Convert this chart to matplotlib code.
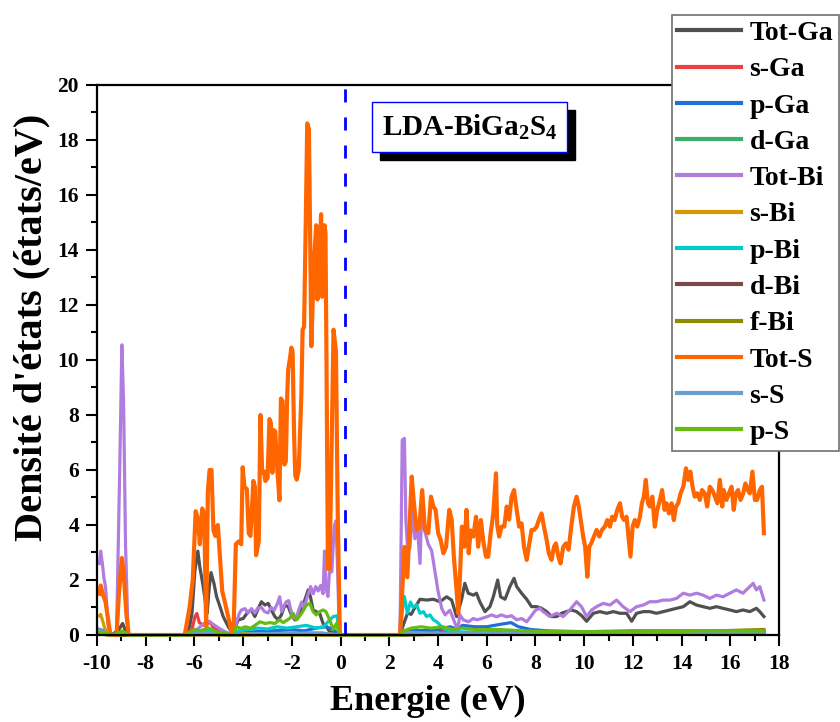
import numpy as np
import matplotlib
matplotlib.use("Agg")
import matplotlib.pyplot as plt
from matplotlib.patches import Rectangle
from matplotlib.ticker import MultipleLocator

plt.rcParams['font.family'] = ['Liberation Serif', 'DejaVu Serif']
plt.rcParams['font.weight'] = 'bold'
plt.rcParams['axes.unicode_minus'] = False
plt.rcParams['mathtext.fontset'] = 'custom'
plt.rcParams['mathtext.rm'] = 'Liberation Serif:bold'
plt.rcParams['mathtext.it'] = 'Liberation Serif:bold'

# (energie eV, DOS)
tot_ga = [(-9.9, 0.2), (-9.7, 0.15), (-9.5, 0.05), (-9.4, 0), (-9.1, 0.2), (-8.95, 0.42), (-8.85, 0.2), (-8.7, 0),
          (-6.4, 0), (-6.2, 0.3), (-6.1, 0.8), (-5.98, 2.36), (-5.86, 3.05), (-5.78, 2.48), (-5.64, 1.76), (-5.52, 1.0),
          (-5.48, 0.79), (-5.39, 1.76), (-5.32, 2.27), (-5.2, 1.88), (-5.09, 1.39), (-4.95, 1.03), (-4.82, 0.67),
          (-4.61, 0.3), (-4.48, 0.12), (-4.4, 0), (-4.3, 0.35), (-4.2, 0.55), (-4.0, 0.6), (-3.79, 0.85), (-3.66, 0.91),
          (-3.52, 0.67), (-3.38, 0.97), (-3.25, 1.21), (-3.11, 1.09), (-2.97, 1.15), (-2.84, 0.91), (-2.7, 0.67),
          (-2.56, 0.55), (-2.43, 0.73), (-2.29, 1.09), (-2.15, 1.03), (-2.02, 0.73), (-1.88, 0.55), (-1.74, 0.67),
          (-1.6, 0.91), (-1.47, 1.27), (-1.33, 1.64), (-1.24, 1.4), (-1.13, 0.91), (-1.0, 0.85), (-0.86, 0.79),
          (-0.72, 0.42), (-0.58, 0.3), (-0.45, 0.12), (-0.25, 0.06), (-0.05, 0),
          (2.44, 0), (2.55, 0.3), (2.65, 0.55), (2.75, 0.8), (2.9, 0.75), (3.05, 1.0), (3.26, 1.3), (3.53, 1.27),
          (3.81, 1.3), (4.08, 1.21), (4.35, 1.39), (4.56, 1.27), (4.76, 0.67), (4.97, 1.3), (5.1, 1.88), (5.24, 1.52),
          (5.45, 1.45), (5.58, 1.52), (5.72, 1.2), (5.93, 0.85), (6.13, 1.03), (6.27, 1.39), (6.45, 2.0), (6.57, 1.39),
          (6.75, 1.3), (6.95, 1.76), (7.12, 2.06), (7.23, 1.76), (7.43, 1.52), (7.64, 1.3), (7.84, 1.03), (8.05, 1.03),
          (8.25, 0.97), (8.46, 0.85), (8.66, 0.67), (8.87, 0.67), (9.07, 0.79), (9.27, 0.85), (9.48, 0.91),
          (9.69, 0.85), (9.9, 0.7), (10.1, 0.5), (10.38, 0.79), (10.65, 0.85), (10.92, 0.79), (11.2, 0.85),
          (11.47, 0.79), (11.74, 0.79), (11.95, 0.5), (12.15, 0.79), (12.43, 0.85), (12.7, 0.85), (12.97, 0.79),
          (13.25, 0.85), (13.52, 0.91), (13.79, 0.97), (14.07, 1.03), (14.34, 1.21), (14.61, 1.09), (14.88, 1.03),
          (15.16, 0.97), (15.43, 1.03), (15.7, 0.97), (15.98, 0.91), (16.25, 0.85), (16.52, 0.91), (16.8, 0.85),
          (17.07, 0.97), (17.21, 0.85), (17.38, 0.67)]

s_ga = [(-9.9, 0.05), (-9.4, 0), (-6.4, 0), (-6.1, 0.2), (-5.98, 0.67), (-5.9, 0.78), (-5.8, 0.45), (-5.64, 0.36),
        (-5.5, 0.38), (-5.37, 0.48), (-5.2, 0.25), (-4.9, 0.12), (-4.5, 0.03), (-4.4, 0), (-4.0, 0.05), (-3.0, 0.08),
        (-1.5, 0.06), (-0.5, 0.05), (-0.05, 0), (2.44, 0), (2.6, 0.15), (2.9, 0.2), (3.3, 0.15), (4.0, 0.18),
        (4.3, 0.12), (5.0, 0.08), (8.0, 0.05), (17.38, 0.05)]

p_ga = [(-9.9, 0.05), (-9.4, 0), (-6.4, 0), (-6.0, 0.05), (-5.5, 0.08), (-4.4, 0), (-4.2, 0.08), (-3.5, 0.12),
        (-2.8, 0.15), (-2.0, 0.2), (-1.5, 0.15), (-1.0, 0.25), (-0.6, 0.3), (-0.3, 0.2), (-0.05, 0),
        (2.44, 0), (2.7, 0.1), (3.2, 0.15), (4.0, 0.2), (4.5, 0.3), (4.8, 0.2), (5.0, 0.35), (5.5, 0.3), (6.0, 0.3),
        (6.5, 0.38), (7.0, 0.45), (7.3, 0.3), (7.8, 0.2), (8.5, 0.15), (10.0, 0.12), (12.0, 0.15), (14.0, 0.15),
        (16.0, 0.15), (17.38, 0.15)]

d_ga = [(-9.9, 0.03), (-9.4, 0), (-6.4, 0), (-5.8, 0.04), (-4.4, 0), (-3.0, 0.05), (-1.0, 0.06), (-0.05, 0),
        (2.44, 0), (4.0, 0.05), (8.0, 0.06), (12.0, 0.08), (17.38, 0.1)]

tot_bi = [(-9.9, 2.6), (-9.85, 3.05), (-9.78, 2.6), (-9.72, 2.1), (-9.65, 1.75), (-9.55, 0.4), (-9.45, 0),
          (-9.2, 0), (-9.07, 5.9), (-8.98, 10.55), (-8.91, 8.5), (-8.83, 3.3), (-8.73, 0.2), (-8.7, 0),
          (-6.4, 0), (-6.1, 0.05), (-5.9, 0.2), (-5.7, 0.35), (-5.55, 0.45), (-5.4, 0.5), (-5.25, 0.4), (-5.0, 0.25),
          (-4.7, 0.1), (-4.45, 0.02), (-4.3, 0.4), (-4.15, 0.8), (-4.07, 0.91), (-3.93, 0.96), (-3.8, 0.8),
          (-3.66, 0.96), (-3.52, 0.8), (-3.4, 0.98), (-3.25, 1.0), (-3.12, 0.85), (-2.98, 0.8), (-2.85, 1.0),
          (-2.72, 0.9), (-2.57, 1.2), (-2.5, 1.39), (-2.42, 0.85), (-2.33, 1.05), (-2.23, 1.21), (-2.13, 1.25),
          (-2.07, 1.0), (-2.0, 0.76), (-1.9, 0.6), (-1.8, 0.65), (-1.73, 0.88), (-1.6, 1.2), (-1.5, 0.95),
          (-1.37, 1.39), (-1.23, 1.76), (-1.12, 1.5), (-1.02, 1.76), (-0.92, 1.6), (-0.82, 1.8), (-0.72, 1.5),
          (-0.66, 3.05), (-0.6, 1.7), (-0.52, 1.4), (-0.46, 2.27), (-0.36, 2.3), (-0.26, 3.96), (-0.19, 4.15),
          (-0.12, 2.27), (-0.05, 0),
          (2.44, 0), (2.53, 7.09), (2.62, 7.15), (2.68, 4.18), (2.76, 3.0), (2.85, 3.2), (2.96, 4.55), (3.05, 3.5),
          (3.15, 4.0), (3.26, 2.6), (3.33, 4.55), (3.45, 3.8), (3.6, 3.3), (3.74, 3.06), (3.87, 2.33), (4.0, 1.6),
          (4.15, 0.97), (4.29, 0.73), (4.49, 0.9), (4.7, 0.42), (4.8, 0.18), (4.9, 0.73), (5.04, 0.55), (5.25, 0.48),
          (5.45, 0.6), (5.6, 0.55), (5.79, 0.6), (6.0, 0.66), (6.2, 0.73), (6.4, 0.66), (6.6, 0.73), (6.82, 0.66),
          (7.02, 0.7), (7.23, 0.55), (7.43, 0.6), (7.64, 0.48), (7.8, 0.66), (8.0, 0.9), (8.18, 0.97), (8.32, 0.85),
          (8.59, 0.67), (8.87, 0.79), (9.14, 0.67), (9.41, 0.91), (9.69, 1.21), (9.89, 1.03), (10.1, 0.67),
          (10.31, 0.91), (10.51, 1.03), (10.78, 1.15), (11.06, 1.09), (11.33, 1.27), (11.6, 1.03), (11.88, 0.85),
          (12.15, 1.03), (12.43, 1.09), (12.7, 1.21), (12.97, 1.21), (13.25, 1.27), (13.52, 1.27), (13.79, 1.33),
          (14.07, 1.52), (14.34, 1.45), (14.61, 1.52), (14.88, 1.45), (15.16, 1.33), (15.43, 1.45), (15.7, 1.39),
          (15.98, 1.52), (16.25, 1.64), (16.52, 1.52), (16.73, 1.7), (16.94, 1.88), (17.07, 1.64), (17.21, 1.76),
          (17.38, 1.27)]

s_bi = [(-9.9, 0.7), (-9.85, 0.75), (-9.78, 0.55), (-9.7, 0.3), (-9.6, 0.1), (-9.5, 0), (-8.7, 0), (-6.4, 0),
        (-5.6, 0.05), (-4.4, 0), (-4.0, 0.05), (-0.05, 0), (2.44, 0), (2.6, 0.1), (4.0, 0.05), (10.0, 0.06),
        (14.0, 0.1), (17.38, 0.12)]

p_bi = [(-9.9, 0.1), (-9.6, 0.05), (-9.4, 0), (-8.7, 0), (-6.4, 0), (-6.0, 0.1), (-5.6, 0.15), (-5.2, 0.1),
        (-4.5, 0.02), (-4.4, 0), (-4.2, 0.15), (-3.8, 0.2), (-3.4, 0.25), (-3.0, 0.22), (-2.6, 0.3), (-2.2, 0.25),
        (-1.8, 0.3), (-1.4, 0.35), (-1.0, 0.25), (-0.7, 0.3), (-0.5, 0.5), (-0.3, 0.67), (-0.15, 0.7), (-0.05, 0),
        (2.44, 0), (2.55, 1.0), (2.62, 1.4), (2.74, 0.79), (2.87, 1.2), (2.98, 1.0), (3.12, 1.1), (3.26, 0.79),
        (3.4, 0.85), (3.53, 0.67), (3.67, 0.73), (3.81, 0.55), (3.95, 0.48), (4.15, 0.3), (4.35, 0.18),
        (4.7, 0.12), (5.5, 0.1), (7.0, 0.08), (9.0, 0.1), (12.0, 0.08), (15.0, 0.1), (17.38, 0.1)]

d_bi = [(-9.9, 0.04), (-9.4, 0), (-6.4, 0), (-5.5, 0.03), (-4.4, 0), (-2.0, 0.04), (-0.05, 0),
        (2.44, 0), (5.0, 0.05), (10.0, 0.06), (17.38, 0.1)]

f_bi = [(-9.9, 0.03), (-9.4, 0), (-0.05, 0), (2.44, 0), (6.0, 0.05), (12.0, 0.1), (14.0, 0.12), (15.5, 0.15),
        (16.5, 0.18), (17.38, 0.2)]

tot_s = [(-9.9, 1.5), (-9.85, 1.8), (-9.75, 1.45), (-9.65, 1.2), (-9.55, 0.6), (-9.45, 0), (-9.2, 0), (-9.1, 1.5),
         (-8.98, 2.8), (-8.9, 2.2), (-8.8, 0.8), (-8.7, 0),
         (-6.4, 0), (-6.2, 1.0), (-6.07, 2.0), (-5.95, 4.5), (-5.85, 4.2), (-5.78, 3.3), (-5.68, 4.6), (-5.6, 4.4),
         (-5.52, 0.3), (-5.45, 5.2), (-5.38, 6.0), (-5.3, 6.0), (-5.22, 3.8), (-5.14, 3.6), (-5.04, 4.0),
         (-4.97, 3.05), (-4.86, 1.6), (-4.7, 1.0), (-4.5, 0.2), (-4.4, 0),
         (-4.3, 3.3), (-4.19, 3.4), (-4.08, 3.3), (-4.02, 6.1), (-3.95, 5.4), (-3.85, 5.3), (-3.77, 3.7),
         (-3.7, 3.6), (-3.58, 5.6), (-3.52, 5.4), (-3.47, 2.9), (-3.36, 3.4), (-3.29, 8.0), (-3.22, 5.9),
         (-3.15, 5.95), (-3.09, 5.6), (-3.0, 5.7), (-2.92, 7.85), (-2.86, 7.7), (-2.8, 5.9), (-2.75, 7.45),
         (-2.68, 7.4), (-2.62, 6.3), (-2.51, 4.9), (-2.45, 8.6), (-2.38, 8.5), (-2.31, 6.2), (-2.25, 6.3),
         (-2.19, 8.75), (-2.15, 9.65), (-2.08, 10.05), (-2.02, 10.45), (-1.97, 10.3), (-1.91, 7.3), (-1.86, 5.8),
         (-1.8, 5.65), (-1.72, 6.0), (-1.67, 7.2), (-1.61, 8.75), (-1.56, 11.1), (-1.5, 11.2), (-1.43, 15.0),
         (-1.37, 18.6), (-1.3, 18.4), (-1.2, 10.5), (-1.1, 13.5), (-1.0, 14.9), (-0.95, 12.2), (-0.9, 12.8),
         (-0.8, 15.3), (-0.76, 12.3), (-0.72, 12.5), (-0.66, 14.9), (-0.62, 14.6), (-0.58, 10.1), (-0.52, 2.4),
         (-0.45, 2.4), (-0.37, 6.8), (-0.29, 11.1), (-0.19, 10.3), (-0.12, 4.6), (-0.03, 0),
         (2.44, 0), (2.62, 3.2), (2.74, 2.1), (2.92, 5.76), (3.01, 4.8), (3.12, 3.82), (3.23, 3.9), (3.35, 5.27),
         (3.46, 3.82), (3.6, 3.7), (3.71, 5.03), (3.81, 4.67), (3.9, 4.55), (4.01, 3.69), (4.11, 3.45),
         (4.22, 2.97), (4.33, 3.2), (4.46, 4.55), (4.56, 4.2), (4.65, 2.85), (4.76, 1.64), (4.83, 0.79),
         (4.9, 2.12), (4.98, 3.94), (5.08, 3.21), (5.17, 4.55), (5.26, 2.97), (5.34, 3.8), (5.45, 3.58),
         (5.56, 4.3), (5.65, 3.21), (5.76, 4.18), (5.86, 3.4), (5.97, 2.85), (6.06, 2.85), (6.16, 3.7),
         (6.27, 4.42), (6.38, 5.88), (6.43, 4.0), (6.51, 3.58), (6.61, 3.94), (6.72, 3.94), (6.82, 4.67),
         (6.92, 4.2), (7.02, 5.03), (7.12, 5.27), (7.23, 4.55), (7.33, 3.94), (7.43, 4.06), (7.53, 3.21),
         (7.64, 2.73), (7.73, 3.21), (7.84, 3.82), (7.94, 3.82), (8.05, 3.94), (8.14, 4.18), (8.25, 4.42),
         (8.35, 3.94), (8.46, 3.45), (8.55, 2.97), (8.66, 2.73), (8.76, 3.2), (8.84, 3.33), (8.94, 2.85),
         (9.03, 2.6), (9.14, 3.2), (9.25, 3.33), (9.36, 3.1), (9.47, 3.94), (9.58, 4.67), (9.69, 5.03),
         (9.78, 4.67), (9.88, 4.06), (9.96, 3.58), (10.04, 3.21), (10.13, 2.12), (10.21, 3.21), (10.29, 3.33),
         (10.4, 3.58), (10.51, 3.82), (10.62, 3.58), (10.73, 3.82), (10.85, 3.94), (10.95, 4.18), (11.06, 3.94),
         (11.15, 4.3), (11.25, 4.18), (11.36, 4.55), (11.47, 4.79), (11.56, 4.3), (11.64, 4.18), (11.74, 4.3),
         (11.82, 3.58), (11.9, 2.85), (11.99, 3.94), (12.08, 4.18), (12.18, 3.94), (12.29, 4.3), (12.37, 4.79),
         (12.45, 5.03), (12.53, 5.64), (12.62, 4.79), (12.7, 4.67), (12.8, 5.03), (12.9, 3.94), (13.0, 4.55),
         (13.11, 4.91), (13.2, 5.27), (13.3, 4.55), (13.38, 4.79), (13.48, 4.42), (13.59, 4.79), (13.68, 4.18),
         (13.77, 4.67), (13.86, 4.79), (13.96, 5.15), (14.07, 5.39), (14.18, 6.06), (14.27, 5.64), (14.36, 5.94),
         (14.45, 5.39), (14.54, 5.03), (14.64, 5.15), (14.75, 4.91), (14.84, 5.27), (14.95, 5.15), (15.05, 4.67),
         (15.16, 5.39), (15.26, 5.27), (15.37, 5.03), (15.47, 4.79), (15.57, 5.64), (15.67, 4.67), (15.73, 5.27),
         (15.84, 4.91), (15.94, 5.15), (16.05, 5.39), (16.14, 4.55), (16.23, 5.15), (16.32, 5.27), (16.42, 4.91),
         (16.53, 5.15), (16.62, 5.51), (16.72, 5.27), (16.8, 5.15), (16.91, 5.94), (17.01, 4.91), (17.1, 4.91),
         (17.21, 5.27), (17.3, 5.39), (17.38, 3.7)]

s_s = [(-9.9, 0.2), (-9.7, 0.12), (-9.5, 0.03), (-9.4, 0), (-9.1, 0.05), (-8.95, 0.1), (-8.7, 0), (-6.4, 0),
       (-6.0, 0.05), (-5.5, 0.08), (-4.4, 0), (-3.5, 0.05), (-2.0, 0.06), (-0.8, 0.08), (-0.05, 0),
       (2.44, 0), (2.7, 0.08), (4.0, 0.06), (8.0, 0.06), (12.0, 0.08), (17.38, 0.1)]

p_s = [(-9.9, 0.1), (-9.5, 0.05), (-9.4, 0), (-9.1, 0.08), (-8.95, 0.15), (-8.8, 0.05), (-8.7, 0),
       (-6.4, 0), (-6.2, 0.1), (-6.0, 0.2), (-5.8, 0.15), (-5.6, 0.2), (-5.4, 0.25), (-5.2, 0.15), (-5.0, 0.1),
       (-4.7, 0.05), (-4.4, 0), (-4.28, 0.3), (-4.1, 0.24), (-3.9, 0.3), (-3.7, 0.24), (-3.5, 0.36),
       (-3.31, 0.48), (-3.1, 0.42), (-2.9, 0.45), (-2.7, 0.42), (-2.5, 0.55), (-2.35, 0.45), (-2.08, 0.61),
       (-1.95, 0.79), (-1.8, 0.55), (-1.6, 0.79), (-1.4, 1.09), (-1.26, 1.15), (-1.13, 0.85), (-1.0, 0.73),
       (-0.86, 0.85), (-0.72, 0.91), (-0.6, 0.85), (-0.45, 0.55), (-0.3, 0.2), (-0.17, 0.42), (-0.05, 0),
       (2.44, 0), (2.6, 0.15), (2.9, 0.25), (3.3, 0.3), (3.7, 0.25), (4.2, 0.3), (4.6, 0.2), (5.0, 0.25),
       (5.5, 0.2), (6.5, 0.2), (7.5, 0.15), (9.0, 0.12), (11.0, 0.12), (13.0, 0.12), (15.0, 0.15), (17.38, 0.15)]

labels = ["Tot-Ga", "s-Ga", "p-Ga", "d-Ga", "Tot-Bi", "s-Bi", "p-Bi", "d-Bi", "f-Bi", "Tot-S", "s-S", "p-S"]
series = [tot_ga, s_ga, p_ga, d_ga, tot_bi, s_bi, p_bi, d_bi, f_bi, tot_s, s_s, p_s]
colors = ["#505050", "#ea4040", "#1f6fd6", "#3aae6a", "#b07ce0", "#d49a00",
          "#00cccc", "#7a4a48", "#8b8b00", "#ff6600", "#6a9fd0", "#66bb11"]
e_fermi = 0.2

fig = plt.figure(figsize=(8.4, 7.22), dpi=100)
ax = fig.add_axes([0.1155, 0.1205, 0.8119, 0.7618])

for pts, lab, col in zip(series, labels, colors):
    e = [p[0] for p in pts]
    v = [p[1] for p in pts]
    lw = 3.0 if lab == "Tot-S" else 2.3
    ax.plot(e, v, color=col, lw=lw, label=lab, clip_on=False, solid_joinstyle='round')

ax.axvline(e_fermi, color='#0000ff', lw=2, dashes=(4.7, 5.4))

ax.set_xlim(-10, 18)
ax.set_ylim(0, 20)
ax.xaxis.set_major_locator(MultipleLocator(2))
ax.xaxis.set_minor_locator(MultipleLocator(1))
ax.yaxis.set_major_locator(MultipleLocator(2))
ax.yaxis.set_minor_locator(MultipleLocator(1))
ax.tick_params(which='major', direction='out', length=8, width=1.5, labelsize=15.5, pad=6)
ax.tick_params(which='minor', direction='out', length=4, width=1.5)
ax.tick_params(axis='y', pad=5)
for sp in ax.spines.values():
    sp.set_linewidth(1.6)

ax.set_xlabel("Energie (eV)", fontsize=26, fontweight='bold')
ax.xaxis.set_label_coords(0.485, -0.09)
ax.set_ylabel("Densité d'états (états/eV)", fontsize=29, fontweight='bold')
ax.yaxis.set_label_coords(-0.068, 0.56)

# boxed title with black shadow
bx, by, bw, bh = 0.4032, 0.8782, 0.2859, 0.0909
ax.add_patch(Rectangle((bx + 0.0117, by - 0.0146), bw, bh, transform=ax.transAxes,
                       facecolor='black', edgecolor='black', zorder=5, clip_on=False))
ax.add_patch(Rectangle((bx, by), bw, bh, transform=ax.transAxes,
                       facecolor='white', edgecolor='#0000ff', lw=1.0, zorder=6, clip_on=False))
ax.text(bx + bw / 2, by + bh / 2, "LDA-BiGa$_2$S$_4$", transform=ax.transAxes, ha='center', va='center',
        fontsize=21, fontweight='bold', zorder=7)

leg = ax.legend(loc='upper left', bbox_to_anchor=(0.7996, 0.9792), bbox_transform=fig.transFigure,
                borderaxespad=0, borderpad=0.2, handlelength=2.3, handletextpad=0.3, labelspacing=0.39,
                fancybox=False, framealpha=1, edgecolor='#707070',
                prop={'family': 'Liberation Serif', 'weight': 'bold', 'size': 20})
leg.get_frame().set_linewidth(1.2)
for h in leg.get_lines():
    h.set_linewidth(3)
leg.set_zorder(10)

fig.savefig("out.png", dpi=100)
